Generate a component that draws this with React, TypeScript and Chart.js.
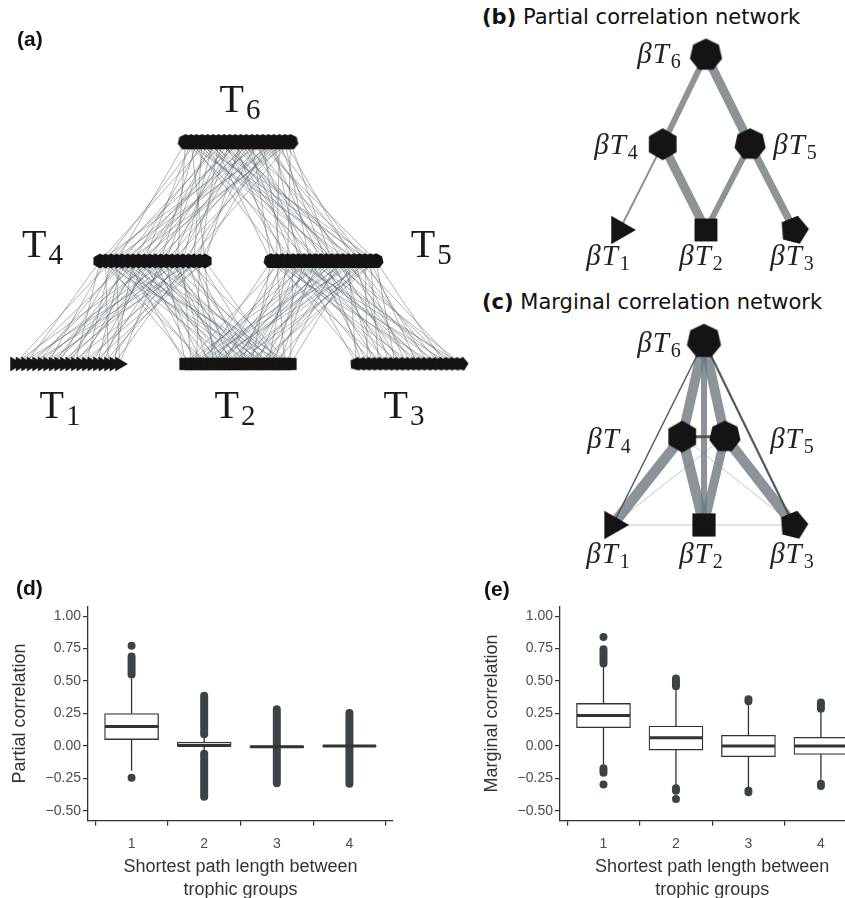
import React, { useEffect, useRef } from 'react';
import { Chart, registerables } from 'chart.js';

Chart.register(...registerables);
Chart.defaults.font.family = "'Liberation Sans', Arial, sans-serif";

// ================= (a) trophic network =================
const aGroupSub = ['1', '2', '3', '4', '5', '6'];
const aGroupShape = ['triangle', 'rect', 'pentagon', 'hexagon', 'heptagon', 'heptagon'];
const aGroupX = [-1, 0, 1, -0.5, 0.5, 0];
const aGroupY = [0, 0, 0, 1, 1, 2.155];
const aNodeCount = 20;
const aLabelX = [-1.041, -0.018, 0.971, -1.143, 1.13, 0.012];
const aLabelY = [-0.524, -0.524, -0.524, 1.042, 1.042, 2.45];

const aEdgesT6T4 = [[0,3],[0,14],[1,8],[1,19],[2,1],[2,11],[3,6],[3,17],[4,0],[4,12],[5,9],[5,15],[6,4],[6,18],[7,2],[7,13],[8,7],[8,16],[9,5],[9,10],[10,1],[10,19],[11,8],[11,14],[12,3],[12,11],[13,6],[13,17],[14,0],[14,9],[15,12],[15,18],[16,4],[16,15],[17,2],[17,10],[18,7],[18,13],[19,5],[19,16]];
const aEdgesT6T5 = [[0,7],[0,16],[1,2],[1,12],[2,9],[2,18],[3,4],[3,14],[4,11],[4,19],[5,0],[5,8],[6,13],[6,17],[7,3],[7,10],[8,6],[8,15],[9,1],[9,12],[10,8],[10,18],[11,4],[11,11],[12,0],[12,14],[13,6],[13,19],[14,2],[14,16],[15,9],[15,13],[16,5],[16,17],[17,1],[17,10],[18,7],[18,15],[19,3],[19,11]];
const aEdgesT4T1 = [[0,2],[0,11],[1,6],[1,17],[2,0],[2,13],[3,8],[3,19],[4,4],[4,15],[5,1],[5,10],[6,7],[6,18],[7,3],[7,12],[8,9],[8,16],[9,5],[9,14],[10,0],[10,11],[11,7],[11,19],[12,2],[12,15],[13,4],[13,9],[14,6],[14,17],[15,1],[15,13],[16,8],[16,18],[17,3],[17,16],[18,10],[18,5],[19,12],[19,14]];
const aEdgesT4T2 = [[0,4],[0,15],[1,9],[1,1],[2,12],[2,18],[3,3],[3,10],[4,7],[4,16],[5,0],[5,13],[6,5],[6,19],[7,8],[7,14],[8,2],[8,11],[9,6],[9,17],[10,9],[10,3],[11,12],[11,15],[12,0],[12,18],[13,7],[13,10],[14,4],[14,16],[15,1],[15,13],[16,6],[16,19],[17,8],[17,11],[18,2],[18,14],[19,5],[19,17]];
const aEdgesT5T2 = [[0,3],[0,12],[1,7],[1,18],[2,0],[2,10],[3,5],[3,15],[4,9],[4,19],[5,2],[5,13],[6,6],[6,16],[7,1],[7,11],[8,8],[8,17],[9,4],[9,14],[10,0],[10,9],[11,6],[11,12],[12,3],[12,18],[13,7],[13,15],[14,1],[14,10],[15,5],[15,19],[16,2],[16,14],[17,8],[17,16],[18,4],[18,11],[19,9],[19,13]];
const aEdgesT5T3 = [[0,5],[0,14],[1,1],[1,10],[2,8],[2,17],[3,3],[3,12],[4,6],[4,19],[5,0],[5,15],[6,9],[6,13],[7,4],[7,18],[8,2],[8,11],[9,7],[9,16],[10,1],[10,12],[11,5],[11,19],[12,8],[12,14],[13,3],[13,17],[14,0],[14,10],[15,6],[15,15],[16,9],[16,18],[17,2],[17,13],[18,4],[18,11],[19,7],[19,16]];

// ================= (b) partial correlation network =================
const netSub = ['1', '2', '3', '4', '5', '6'];
const netShape = ['triangle', 'rect', 'pentagon', 'hexagon', 'heptagon', 'heptagon'];
const bNodeX = [-1, 0, 1.02, -0.5, 0.51, 0];
const bNodeY = [0, 0, 0, 0.98, 0.98, 2];
const bLabelX = [-1.133, -0.058, 0.994, -1.04, 1.029, -0.543];
const bLabelY = [-0.4, -0.4, -0.4, 0.869, 0.869, 1.909];
// [from, to, strength]
const bEdges = [[5, 3, 0.2], [5, 4, 0.3], [3, 0, 0.067], [3, 1, 0.3], [4, 1, 0.2], [4, 2, 0.25]];

// ================= (c) marginal correlation network =================
const cNodeX = [-1.05, 0, 1.03, -0.25, 0.24, 0];
const cNodeY = [0, 0, 0, 1.01, 1.01, 2.1];
const cLabelX = [-1.103, -0.034, 1.011, -1.092, 1.011, -0.517];
const cLabelY = [-0.431, -0.431, -0.431, 0.88, 0.88, 1.981];
// [from, to, strength, kind]
const cEdges: [number, number, number, string][] = [
  [3, 2, 0.03, 'weak'], [4, 0, 0.03, 'weak'], [0, 1, 0.03, 'weak'], [1, 2, 0.03, 'weak'],
  [5, 3, 0.33, 'pos'], [5, 4, 0.33, 'pos'], [5, 1, 0.2, 'pos'], [3, 0, 0.35, 'pos'],
  [3, 1, 0.35, 'pos'], [4, 1, 0.3, 'pos'], [4, 2, 0.35, 'pos'],
  [5, 0, 0.05, 'neg'], [5, 2, 0.075, 'neg'], [3, 4, 0.1, 'neg'],
];

// ================= (d) / (e) boxplots =================
const pathGroups = [1, 2, 3, 4];
const xTickLabels = ['1', '2', '3', '4'];
const yTicks = [-0.5, -0.25, 0, 0.25, 0.5, 0.75, 1.0];
const yTickLabels = ['\u22120.50', '\u22120.25', '0.00', '0.25', '0.50', '0.75', '1.00'];

const dQ1 = [0.05, -0.003, -0.012, -0.002];
const dMedian = [0.15, 0.004, -0.005, 0.0];
const dQ3 = [0.25, 0.03, 0.002, 0.003];
const dWhiskerLow = [-0.19, -0.03, -0.02, -0.02];
const dWhiskerHigh = [0.52, 0.07, 0.02, 0.02];
const dOutlierBands = [[1, 0.55, 0.69], [2, 0.09, 0.387], [2, -0.06, -0.39], [3, -0.287, 0.284], [4, -0.29, 0.254]];
const dOutlierPoints = [[1, 0.772], [1, -0.244]];

const eQ1 = [0.141, -0.031, -0.082, -0.064];
const eMedian = [0.236, 0.064, 0.001, 0.0];
const eQ3 = [0.328, 0.154, 0.082, 0.067];
const eWhiskerLow = [-0.14, -0.31, -0.33, -0.26];
const eWhiskerHigh = [0.61, 0.43, 0.33, 0.26];
const eOutlierBands = [[1, 0.636, 0.746], [1, -0.17, -0.205], [2, 0.46, 0.52], [2, -0.325, -0.345], [3, 0.345, 0.36], [3, -0.345, -0.355], [4, 0.287, 0.336], [4, -0.29, -0.307]];
const eOutlierPoints = [[1, 0.84], [1, -0.295], [2, -0.408]];

// ---------------- helpers ----------------
function polygonImage(sides: number, radius: number, rotDeg: number, color: string) {
  const size = Math.ceil(radius * 2 + 2);
  const c = document.createElement('canvas');
  c.width = size;
  c.height = size;
  const g = c.getContext('2d')!;
  g.fillStyle = color;
  g.beginPath();
  for (let k = 0; k < sides; k++) {
    const a = (rotDeg * Math.PI) / 180 - Math.PI / 2 + (k * 2 * Math.PI) / sides;
    const px = size / 2 + radius * Math.cos(a);
    const py = size / 2 + radius * Math.sin(a);
    if (k === 0) g.moveTo(px, py);
    else g.lineTo(px, py);
  }
  g.closePath();
  g.fill();
  return c;
}

const NODE_COLOR = '#141414';

function shapeStyle(shape: string, r: number) {
  if (shape === 'triangle') return { pointStyle: 'triangle', pointRadius: r, pointRotation: 90 };
  if (shape === 'rect') return { pointStyle: 'rect', pointRadius: r, pointRotation: 0 };
  const sides = shape === 'pentagon' ? 5 : shape === 'hexagon' ? 6 : 7;
  const rot = shape === 'pentagon' ? 14 : 0;
  const rr = shape === 'pentagon' ? r * 0.95 : r;
  return { pointStyle: polygonImage(sides, rr, rot, NODE_COLOR) as any, pointRadius: r, pointRotation: 0 };
}

const netLabelsPlugin = {
  id: 'netLabels',
  afterDatasetsDraw(chart: any, _args: any, opts: any) {
    const { ctx, scales } = chart;
    const items = opts.items || [];
    ctx.save();
    ctx.fillStyle = opts.color;
    ctx.textBaseline = 'alphabetic';
    ctx.textAlign = 'left';
    const mainFont = `${opts.mainStyle} ${opts.mainSize}px ${opts.family}`;
    const subFont = `${opts.subSize}px ${opts.family}`;
    for (const it of items) {
      const px = scales.x.getPixelForValue(it.x);
      const py = scales.y.getPixelForValue(it.y);
      const chars: string[] = Array.from(it.main);
      ctx.font = mainFont;
      const widths = chars.map((c) => ctx.measureText(c).width);
      ctx.font = subFont;
      const subW = ctx.measureText(it.sub).width;
      const total = widths.reduce((a, b) => a + b, 0) + opts.gap * (chars.length - 1) + opts.subGap + subW;
      let x = px - total / 2;
      ctx.font = mainFont;
      chars.forEach((c, i) => {
        ctx.fillText(c, x, py);
        x += widths[i] + (i < chars.length - 1 ? opts.gap : 0);
      });
      x += opts.subGap;
      ctx.font = subFont;
      ctx.fillText(it.sub, x, py + opts.subDrop);
    }
    ctx.restore();
  },
};

function baseNetOptions(xmin: number, xmax: number, ymin: number, ymax: number, labels: any) {
  return {
    animation: false as const,
    responsive: false,
    maintainAspectRatio: false,
    events: [] as any[],
    layout: { padding: 0, autoPadding: false },
    plugins: { legend: { display: false }, tooltip: { enabled: false }, title: { display: false }, netLabels: labels },
    scales: {
      x: { type: 'linear' as const, display: false, min: xmin, max: xmax },
      y: { type: 'linear' as const, display: false, min: ymin, max: ymax },
    },
  };
}

// ---------------- (a) ----------------
const A_NODE_STEP = 0.0323;
function aNodePos(g: number, i: number) {
  return { x: aGroupX[g] + (i - (aNodeCount - 1) / 2) * A_NODE_STEP, y: aGroupY[g] };
}

function makeChartA(canvas: HTMLCanvasElement) {
  const datasets: any[] = [];
  const radii = [8, 8.3, 7.5, 7.6, 7.7, 8];
  aGroupSub.forEach((_, g) => {
    const st = shapeStyle(aGroupShape[g], radii[g]);
    datasets.push({
      data: Array.from({ length: aNodeCount }, (_, i) => aNodePos(g, i)),
      ...st,
      pointBackgroundColor: NODE_COLOR,
      pointBorderColor: NODE_COLOR,
      pointBorderWidth: 0.5,
      showLine: false,
      clip: false,
      order: 0,
    });
  });
  const links: [number, number, number[][]][] = [
    [5, 3, aEdgesT6T4], [5, 4, aEdgesT6T5], [3, 0, aEdgesT4T1],
    [3, 1, aEdgesT4T2], [4, 1, aEdgesT5T2], [4, 2, aEdgesT5T3],
  ];
  links.forEach(([gf, gt, pairs]) => {
    const data: any[] = [];
    pairs.forEach(([i, j]) => {
      data.push(aNodePos(gf, i), aNodePos(gt, j), { x: NaN, y: NaN });
    });
    datasets.push({
      data,
      showLine: true,
      spanGaps: false,
      borderColor: 'rgba(95,106,114,0.6)',
      borderWidth: 0.85,
      pointRadius: 0,
      clip: false,
      order: 2,
    });
  });
  const labels = {
    items: aGroupSub.map((s, g) => ({ x: aLabelX[g], y: aLabelY[g], main: 'T', sub: s })),
    color: '#1a1a1a', family: "'Liberation Serif', serif", mainStyle: 'normal', mainSize: 40,
    subSize: 29, gap: 0, subGap: 2, subDrop: 7,
  };
  return new Chart(canvas, {
    type: 'scatter',
    data: { datasets },
    options: baseNetOptions(-238 / 171, (480 - 238) / 171, -76 / 103, 364 / 103, labels) as any,
    plugins: [netLabelsPlugin],
  });
}

// ---------------- (b) / (c) ----------------
function makeNetChart(
  canvas: HTMLCanvasElement,
  nodeX: number[], nodeY: number[], labelX: number[], labelY: number[],
  edges: any[], radii: number[], range: number[],
) {
  const datasets: any[] = [];
  nodeX.forEach((x, k) => {
    const st = shapeStyle(netShape[k], radii[k]);
    datasets.push({
      data: [{ x, y: nodeY[k] }],
      ...st,
      pointBackgroundColor: NODE_COLOR,
      pointBorderColor: NODE_COLOR,
      pointBorderWidth: 0.5,
      showLine: false,
      clip: false,
      order: 0,
    });
  });
  edges.forEach((e) => {
    const [f, t, s, kind] = e;
    const color = kind === 'weak' ? 'rgba(185,190,196,0.85)' : kind === 'neg' ? 'rgba(72,82,88,0.95)' : kind === 'pos' ? 'rgba(112,124,130,0.82)' : 'rgb(140,148,152)';
    const width = kind === 'weak' ? 1 : s * 30;
    datasets.push({
      data: [{ x: nodeX[f], y: nodeY[f] }, { x: nodeX[t], y: nodeY[t] }],
      showLine: true,
      borderColor: color,
      borderWidth: width,
      pointRadius: 0,
      clip: false,
      order: kind === 'weak' ? 5 : kind === 'pos' ? 4 : kind === 'neg' ? 3 : 4,
    });
  });
  const labels = {
    items: netSub.map((s, k) => ({ x: labelX[k], y: labelY[k], main: '\u03b2T', sub: s })),
    color: '#222', family: "'Liberation Serif', serif", mainStyle: 'italic', mainSize: 29,
    subSize: 20, gap: 1, subGap: 2, subDrop: 5,
  };
  return new Chart(canvas, {
    type: 'scatter',
    data: { datasets },
    options: baseNetOptions(range[0], range[1], range[2], range[3], labels) as any,
    plugins: [netLabelsPlugin],
  });
}

// ---------------- boxplots ----------------
function makeBoxChart(
  canvas: HTMLCanvasElement,
  q1: number[], med: number[], q3: number[], wLo: number[], wHi: number[],
  bands: number[][], points: number[][], yTitle: string, padRight: number,
) {
  const OUT = '#3a4448';
  const LINE = '#333333';
  const whiskers: any[] = [];
  pathGroups.forEach((g, i) => {
    whiskers.push({ x: g, y: q3[i] }, { x: g, y: wHi[i] }, { x: NaN, y: NaN });
    whiskers.push({ x: g, y: q1[i] }, { x: g, y: wLo[i] }, { x: NaN, y: NaN });
  });
  const bandData: any[] = [];
  bands.forEach(([g, a, b]) => bandData.push({ x: g, y: a }, { x: g, y: b }, { x: NaN, y: NaN }));
  const datasets: any[] = [
    {
      type: 'scatter',
      data: pathGroups.map((g, i) => ({ x: g, y: med[i] })),
      pointStyle: 'line', pointRadius: 26.5, pointBorderColor: LINE, pointBorderWidth: 3,
      pointBackgroundColor: LINE, order: 0, clip: false,
    },
    {
      type: 'scatter',
      data: points.map(([g, v]) => ({ x: g, y: v })),
      pointRadius: 4, pointBackgroundColor: OUT, pointBorderWidth: 0, order: 1,
    },
    {
      type: 'line',
      data: bandData, borderColor: OUT, borderWidth: 8, borderCapStyle: 'round',
      pointRadius: 0, spanGaps: false, order: 1,
    },
    {
      type: 'bar',
      data: pathGroups.map((g, i) => ({ x: g, y: [q1[i], q3[i]] })),
      backgroundColor: '#ffffff', borderColor: LINE, borderWidth: 1.3, borderSkipped: false,
      barThickness: 54, grouped: false, order: 3,
    },
    {
      type: 'line',
      data: whiskers, borderColor: LINE, borderWidth: 1.3, pointRadius: 0, spanGaps: false, order: 4,
    },
  ];
  const tickFont = { family: "'Liberation Sans', Arial, sans-serif", size: 14 };
  const titleFont = { family: "'Liberation Sans', Arial, sans-serif", size: 18 };
  return new Chart(canvas, {
    type: 'scatter',
    data: { datasets },
    options: {
      animation: false,
      responsive: false,
      maintainAspectRatio: false,
      events: [],
      layout: { padding: { top: 10.25, right: padRight, left: 0, bottom: 0 }, autoPadding: false },
      plugins: { legend: { display: false }, tooltip: { enabled: false } },
      scales: {
        x: {
          type: 'linear', min: 0.4, max: 4.6, offset: false,
          afterBuildTicks: (s: any) => { s.ticks = pathGroups.map((v) => ({ value: v })); },
          afterFit: (s: any) => { s.height = 85.25; },
          ticks: {
            callback: (v: any) => { const i = pathGroups.indexOf(v); return i >= 0 ? xTickLabels[i] : ''; },
            color: '#4d4d4d', font: tickFont, padding: 10, maxRotation: 0, autoSkip: false,
          },
          grid: { display: true, drawOnChartArea: false, drawTicks: true, tickLength: 5, color: LINE, lineWidth: 1.2 },
          border: { display: true, color: LINE, width: 1.3 },
          title: {
            display: true, text: ['Shortest path length between', 'trophic groups'], color: '#333',
            font: { ...titleFont, lineHeight: 23 / 18 }, padding: { top: 0, bottom: 4 },
          },
        },
        y: {
          type: 'linear', min: -0.575, max: 1.075,
          afterBuildTicks: (s: any) => { s.ticks = yTicks.map((v) => ({ value: v })); },
          afterFit: (s: any) => { s.width = 88; },
          ticks: {
            callback: (v: any) => { const i = yTicks.indexOf(v); return i >= 0 ? yTickLabels[i] : ''; },
            color: '#4d4d4d', font: tickFont, padding: 2,
          },
          grid: { display: true, drawOnChartArea: false, drawTicks: true, tickLength: 5, color: LINE, lineWidth: 1.2 },
          border: { display: true, color: LINE, width: 1.3 },
          title: { display: true, text: yTitle, color: '#333', font: titleFont, padding: { top: 9, bottom: 0 } },
        },
      },
    } as any,
  });
}

const panelLabel: React.CSSProperties = {
  position: 'absolute', fontFamily: "'Liberation Sans', Arial, sans-serif", fontWeight: 'bold',
  color: '#111', whiteSpace: 'nowrap', fontSize: 21, lineHeight: '21px',
};
const netTitle: React.CSSProperties = {
  position: 'absolute', fontFamily: "'DejaVu Sans', sans-serif", fontSize: 21, lineHeight: '21px',
  color: '#111', whiteSpace: 'nowrap', left: 482,
};

export default function App() {
  const aRef = useRef<HTMLCanvasElement>(null);
  const bRef = useRef<HTMLCanvasElement>(null);
  const cRef = useRef<HTMLCanvasElement>(null);
  const dRef = useRef<HTMLCanvasElement>(null);
  const eRef = useRef<HTMLCanvasElement>(null);

  useEffect(() => {
    const charts: Chart[] = [];
    charts.push(makeChartA(aRef.current!));
    charts.push(
      makeNetChart(bRef.current!, bNodeX, bNodeY, bLabelX, bLabelY, bEdges, [16, 15.8, 15.5, 16, 16, 16.5],
        [-226 / 86.5, 139 / 86.5, -60 / 87.5, 200 / 87.5]),
    );
    charts.push(
      makeNetChart(cRef.current!, cNodeX, cNodeY, cLabelX, cLabelY, cEdges, [16, 16, 15.5, 16, 16, 17.5],
        [-224 / 87, 141 / 87, -55 / 87.5, 210 / 87.5]),
    );
    charts.push(makeBoxChart(dRef.current!, dQ1, dMedian, dQ3, dWhiskerLow, dWhiskerHigh, dOutlierBands, dOutlierPoints, 'Partial correlation', 37));
    charts.push(makeBoxChart(eRef.current!, eQ1, eMedian, eQ3, eWhiskerLow, eWhiskerHigh, eOutlierBands, eOutlierPoints, 'Marginal correlation', 7.6));
    return () => charts.forEach((c) => c.destroy());
  }, []);

  return (
    <div style={{ position: 'fixed', left: 0, top: 0, width: 845, height: 898, overflow: 'hidden', background: '#fff' }}>
      <canvas ref={aRef} width={480} height={440} style={{ position: 'absolute', left: 0, top: 0 }} />
      <canvas ref={bRef} width={365} height={260} style={{ position: 'absolute', left: 480, top: 30 }} />
      <canvas ref={cRef} width={365} height={265} style={{ position: 'absolute', left: 480, top: 315 }} />
      <canvas ref={dRef} width={430} height={310} style={{ position: 'absolute', left: 0, top: 596 }} />
      <canvas ref={eRef} width={400} height={310} style={{ position: 'absolute', left: 472, top: 596 }} />
      <div style={{ ...panelLabel, left: 17, top: 28 }}>(a)</div>
      <div style={{ ...netTitle, top: 7 }}><b>(b)</b> Partial correlation network</div>
      <div style={{ ...netTitle, top: 292 }}><b>(c)</b> Marginal correlation network</div>
      <div style={{ ...panelLabel, left: 16, top: 577 }}>(d)</div>
      <div style={{ ...panelLabel, left: 484, top: 578 }}>(e)</div>
    </div>
  );
}
